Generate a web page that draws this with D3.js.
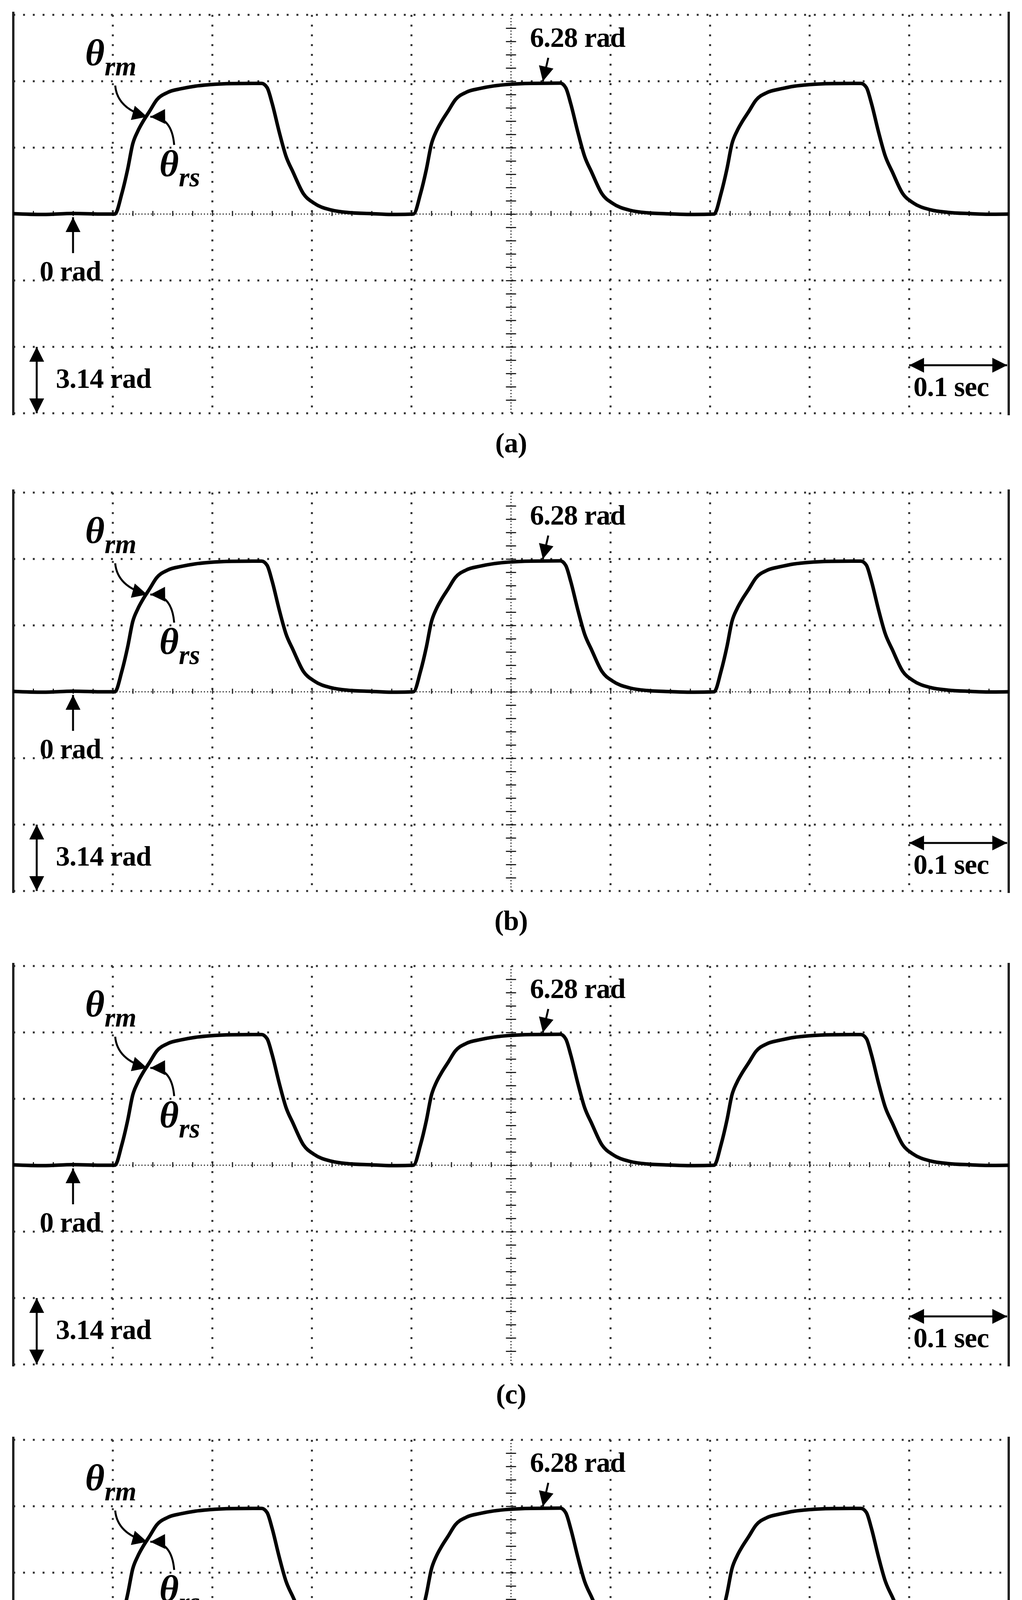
<!DOCTYPE html>
<html>
<head>
<meta charset="utf-8">
<script src="https://cdn.jsdelivr.net/npm/d3@7"></script>
<style>
  html, body { margin: 0; padding: 0; background: #fff; overflow: hidden; }
  svg { display: block; }
</style>
</head>
<body>
<script>
// panels and their captions
var panelNames = ["(a)", "(b)", "(c)", "(d)"];
var panelTops = [38, 1261, 2473, 3686];

// trace: time (sec) and rotor angle (rad)
var traceTime = [0, 0.030, 0.060, 0.090, 0.102, 0.109, 0.115, 0.120, 0.125, 0.130, 0.137, 0.144, 0.155, 0.169, 0.183, 0.197, 0.220, 0.2495,
  0.255, 0.260, 0.267, 0.274, 0.281, 0.2915, 0.302, 0.3195, 0.337, 0.360, 0.380, 0.402,
  0.409, 0.415, 0.420, 0.425, 0.430, 0.437, 0.444, 0.455, 0.469, 0.483, 0.497, 0.520, 0.5495,
  0.555, 0.560, 0.567, 0.574, 0.581, 0.5915, 0.602, 0.6195, 0.637, 0.660, 0.680, 0.704,
  0.711, 0.717, 0.722, 0.727, 0.732, 0.739, 0.746, 0.757, 0.771, 0.785, 0.799, 0.822, 0.8515,
  0.857, 0.862, 0.869, 0.876, 0.883, 0.8935, 0.904, 0.9215, 0.939, 0.962, 0.980, 1.0];
var traceAngle = [0.02, -0.02, 0.03, 0.0, 0.0, 0.96, 2.14, 3.32, 3.91, 4.35, 4.87, 5.39, 5.75, 5.93, 6.05, 6.12, 6.17, 6.18,
  5.98, 5.24, 3.91, 2.73, 1.99, 0.96, 0.52, 0.19, 0.07, 0.02, -0.02, 0.0,
  0.95, 2.12, 3.30, 3.92, 4.36, 4.88, 5.40, 5.76, 5.94, 6.06, 6.13, 6.18, 6.19,
  5.97, 5.22, 3.90, 2.72, 1.98, 0.95, 0.51, 0.18, 0.06, 0.01, -0.02, 0.0,
  0.97, 2.15, 3.33, 3.92, 4.35, 4.86, 5.38, 5.74, 5.92, 6.05, 6.12, 6.17, 6.18,
  5.99, 5.25, 3.92, 2.74, 2.00, 0.97, 0.53, 0.20, 0.08, 0.02, -0.01, 0.0];

var xTicks = d3.range(0, 1.0001, 0.1);
var yTicks = [-9.42, -6.28, -3.14, 0, 3.14, 6.28, 9.42];

var W = 2617, H = 4839;
var left = 34, right = 2583, panelH = 1020;
var serif = "'Liberation Serif', 'Times New Roman', serif";

var svg = d3.select("body").append("svg").attr("width", W).attr("height", H);

var defs = svg.append("defs");
defs.append("marker").attr("id", "head")
  .attr("markerUnits", "userSpaceOnUse")
  .attr("viewBox", "0 0 10 10").attr("refX", 10).attr("refY", 5)
  .attr("markerWidth", 42).attr("markerHeight", 38).attr("orient", "auto-start-reverse")
  .append("path").attr("d", "M0,0 L10,5 L0,10 Z").attr("fill", "#000");

var x = d3.scaleLinear().domain([0, 1]).range([left, right]);

var trace = traceTime.map(function (t, i) { return { t: t, v: traceAngle[i] }; });

panelTops.forEach(function (top, p) {
  var y = d3.scaleLinear().domain([-9.42, 9.42]).range([top + panelH, top]);
  var g = svg.append("g");

  // dotted grid
  g.selectAll(".vg").data(xTicks.slice(1, -1).filter(function (d) { return Math.abs(d - 0.5) > 1e-6; }))
    .enter().append("line")
    .attr("x1", function (d) { return x(d); }).attr("x2", function (d) { return x(d); })
    .attr("y1", top).attr("y2", top + panelH)
    .attr("stroke", "#333").attr("stroke-width", 5).attr("stroke-dasharray", "5,20");
  g.selectAll(".hg").data(yTicks.filter(function (d) { return d !== 0; }))
    .enter().append("line")
    .attr("x1", left).attr("x2", right)
    .attr("y1", function (d) { return y(d); }).attr("y2", function (d) { return y(d); })
    .attr("stroke", "#333").attr("stroke-width", 5).attr("stroke-dasharray", "5,20");

  // centre axes, fine dotted with minor ticks
  g.append("line").attr("x1", left).attr("x2", right).attr("y1", y(0)).attr("y2", y(0))
    .attr("stroke", "#333").attr("stroke-width", 3).attr("stroke-dasharray", "3,5");
  g.append("line").attr("x1", x(0.5)).attr("x2", x(0.5)).attr("y1", top).attr("y2", top + panelH)
    .attr("stroke", "#333").attr("stroke-width", 3).attr("stroke-dasharray", "3,5");

  var xAxis = d3.axisBottom(x).tickValues(d3.range(0.02, 1, 0.02)).tickSize(9).tickFormat("");
  var ax = g.append("g").attr("transform", "translate(0," + (y(0) - 4) + ")").call(xAxis);
  ax.select(".domain").remove();
  ax.selectAll("line").attr("stroke", "#222").attr("stroke-width", 3).attr("y1", -4);

  var yAxis = d3.axisLeft(y).tickValues(d3.range(-9.42 + 0.628, 9.42, 0.628)).tickSize(26).tickFormat("");
  var ay = g.append("g").attr("transform", "translate(" + (x(0.5) + 13) + ",0)").call(yAxis);
  ay.select(".domain").remove();
  ay.selectAll("line").attr("stroke", "#222").attr("stroke-width", 3);

  // side borders
  [left, right].forEach(function (bx) {
    g.append("line").attr("x1", bx).attr("x2", bx).attr("y1", top - 8).attr("y2", top + panelH + 5)
      .attr("stroke", "#222").attr("stroke-width", 6);
  });

  // trace
  var line = d3.line().x(function (d) { return x(d.t); }).y(function (d) { return y(d.v); })
    .curve(d3.curveMonotoneX);
  g.append("path").datum(trace).attr("d", line)
    .attr("fill", "none").attr("stroke", "#000").attr("stroke-width", 9).attr("stroke-linejoin", "round");

  // annotations
  var arrow = function (d) {
    g.append("path").attr("d", d).attr("fill", "none").attr("stroke", "#000")
      .attr("stroke-width", 5).attr("marker-end", "url(#head)");
  };
  var cx = x(0.1345), cy = y(4.6);
  arrow("M295," + (top + 181) + " Q300," + (top + 240) + " " + cx + "," + cy);
  arrow("M446," + (top + 333) + " Q440," + (top + 260) + " " + (cx + 8) + "," + cy);

  var th = function (tx, ty, sub) {
    var t = g.append("text").attr("x", tx).attr("y", ty).attr("font-family", serif)
      .attr("font-style", "italic").attr("font-weight", "bold").attr("font-size", 96).text("\u03b8");
    t.append("tspan").attr("dy", 26).attr("font-size", 70).text(sub);
  };
  th(218, top + 129, "rm");
  th(408, top + 413, "rs");

  // 0 rad
  g.append("line").attr("x1", 187).attr("x2", 187).attr("y1", top + 610).attr("y2", y(0) + 8)
    .attr("stroke", "#000").attr("stroke-width", 5).attr("marker-end", "url(#head)");
  var label = function (tx, ty, s, anchor) {
    g.append("text").attr("x", tx).attr("y", ty).attr("font-family", serif).attr("font-weight", "bold")
      .attr("font-size", 72).attr("letter-spacing", -1).attr("text-anchor", anchor || "start").text(s);
  };
  label(180, top + 680, "0 rad", "middle");

  // 6.28 rad
  label(1357, top + 82, "6.28 rad");
  g.append("line").attr("x1", 1404).attr("x2", x(0.532)).attr("y1", top + 110).attr("y2", y(6.2) - 4)
    .attr("stroke", "#000").attr("stroke-width", 5).attr("marker-end", "url(#head)");

  // 3.14 rad scale
  g.append("line").attr("x1", 94).attr("x2", 94).attr("y1", y(-6.28)).attr("y2", y(-9.42))
    .attr("stroke", "#000").attr("stroke-width", 5)
    .attr("marker-start", "url(#head)").attr("marker-end", "url(#head)");
  label(143, top + 955, "3.14 rad");

  // 0.1 sec scale
  g.append("line").attr("x1", x(0.9)).attr("x2", x(1.0) - 4).attr("y1", top + 897).attr("y2", top + 897)
    .attr("stroke", "#000").attr("stroke-width", 5)
    .attr("marker-start", "url(#head)").attr("marker-end", "url(#head)");
  label(2339, top + 976, "0.1 sec");

  // caption
  label(x(0.5), top + panelH + 100, panelNames[p], "middle");
});
</script>
</body>
</html>
